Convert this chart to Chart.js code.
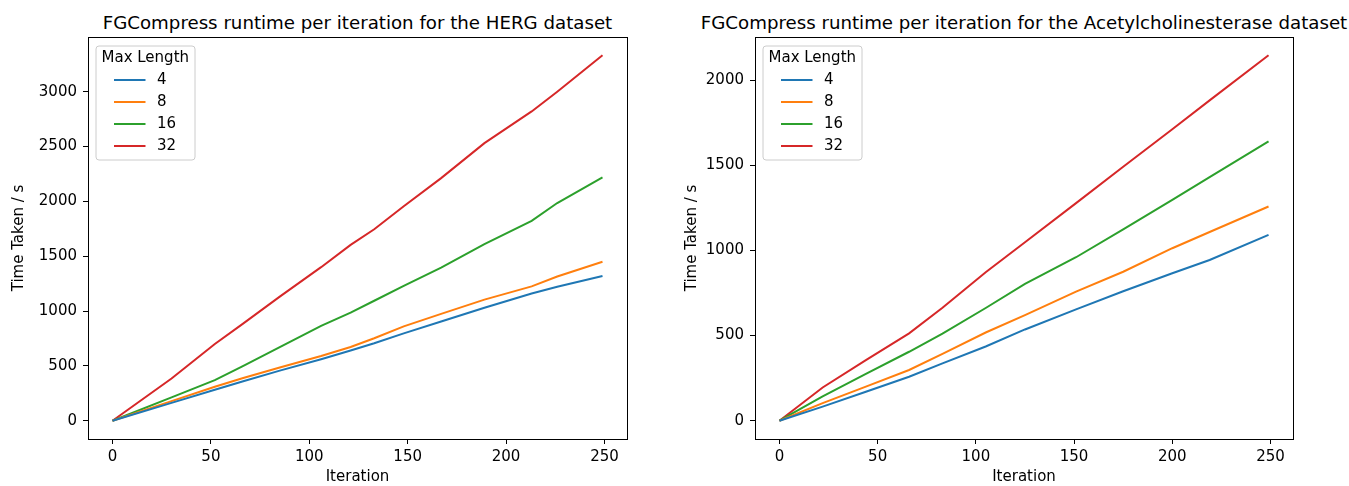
<!DOCTYPE html>
<html>
<head>
<meta charset="utf-8">
<script src="https://cdn.jsdelivr.net/npm/chart.js@4.4.0/dist/chart.umd.min.js"></script>
<style>
    body { margin: 0; background: #fff; width: 1349px; height: 486px; position: relative; overflow: hidden; font-family: "DejaVu Sans"; }
    canvas { position: absolute; top: 0; }
    .title { position: absolute; top: 12px; line-height: 22px; font-size: 18.2px; color: #000; white-space: nowrap; transform: translateX(-50%); }
</style>
</head>
<body>
<div class="title" id="hergTitle" style="left:357.5px">FGCompress runtime per iteration for the HERG dataset</div>
<div class="title" id="acheTitle" style="left:1024px">FGCompress runtime per iteration for the Acetylcholinesterase dataset</div>
<canvas id="hergChart" width="668" height="486" style="left:0px"></canvas>
<canvas id="acheChart" width="681" height="486" style="left:668px"></canvas>
<script>
const maxLengths = ["4", "8", "16", "32"];
const colors = ["#1f77b4", "#ff7f0e", "#2ca02c", "#d62728"];
const xTicks = [0, 50, 100, 150, 200, 250];

// HERG dataset, time taken (s) at each iteration
const hergIterations = [0, 30, 52, 66, 85, 106, 121, 133, 148, 167, 189, 213, 226, 249];
const hergLen4 = [0, 163, 282, 357, 457, 560, 640, 706, 796, 904, 1030, 1160, 1222, 1320];
const hergLen8 = [0, 179, 310, 388, 485, 590, 672, 752, 860, 974, 1104, 1225, 1315, 1450];
const hergLen16 = [0, 213, 370, 495, 672, 865, 985, 1094, 1229, 1396, 1610, 1822, 1985, 2218];
const hergLen32 = [0, 385, 699, 881, 1131, 1400, 1603, 1746, 1955, 2212, 2531, 2820, 3000, 3332];
const hergYTicks = [0, 500, 1000, 1500, 2000, 2500, 3000];

// Acetylcholinesterase dataset
const acheIterations = [0, 22, 44, 66, 83, 105, 125, 151, 175, 200, 219, 249];
const acheLen4 = [0, 83, 170, 258, 337, 436, 536, 654, 760, 866, 944, 1091];
const acheLen8 = [0, 103, 200, 298, 392, 518, 620, 758, 875, 1013, 1108, 1258];
const acheLen16 = [0, 143, 275, 405, 511, 662, 803, 960, 1124, 1297, 1430, 1640];
const acheLen32 = [0, 195, 356, 513, 663, 872, 1048, 1278, 1491, 1712, 1881, 2146];
const acheYTicks = [0, 500, 1000, 1500, 2000];

const tickFont = { family: "DejaVu Sans", size: 15 };

// box round the plot area, like the matplotlib frame
const framePlugin = {
    id: "frame",
    afterDraw(chart) {
        const a = chart.chartArea;
        const ctx = chart.ctx;
        ctx.save();
        ctx.strokeStyle = "#000";
        ctx.lineWidth = 1;
        ctx.strokeRect(Math.round(a.left) + 0.5, Math.round(a.top) + 0.5, Math.round(a.right - a.left), Math.round(a.bottom - a.top));
        ctx.restore();
    }
};

// legend inside the top left corner of the plot
const boxLegendPlugin = {
    id: "boxLegend",
    afterDraw(chart) {
        const a = chart.chartArea;
        const ctx = chart.ctx;
        const x = a.left + 7.5;
        const y = a.top + 8.5;
        ctx.save();
        ctx.fillStyle = "rgba(255,255,255,0.8)";
        ctx.strokeStyle = "#cccccc";
        ctx.lineWidth = 1;
        ctx.beginPath();
        ctx.roundRect(x + 0.5, y + 0.5, 99, 114, 3);
        ctx.fill();
        ctx.stroke();
        ctx.font = "15px 'DejaVu Sans'";
        ctx.fillStyle = "#000";
        ctx.textBaseline = "middle";
        ctx.fillText("Max Length", x + 6, y + 13);
        chart.data.datasets.forEach(function (ds, i) {
            const rowY = y + 34.5 + i * 22;
            ctx.strokeStyle = ds.borderColor;
            ctx.lineWidth = 2;
            ctx.beginPath();
            ctx.moveTo(x + 18.5, rowY);
            ctx.lineTo(x + 50, rowY);
            ctx.stroke();
            ctx.fillStyle = "#000";
            ctx.fillText(ds.label, x + 61.5, rowY);
        });
        ctx.restore();
    }
};

function makeChart(canvasId, iterations, seriesList, yTicks, axisWidth, yTitlePad, padRight) {
    const allValues = seriesList.flat();
    const yMaxData = Math.max(...allValues);
    const yMinData = Math.min(...allValues);
    const yMargin = (yMaxData - yMinData) * 0.05;
    const xMargin = (iterations[iterations.length - 1] - iterations[0]) * 0.05;

    const datasets = seriesList.map(function (values, i) {
        return {
            label: maxLengths[i],
            data: iterations.map((it, j) => ({ x: it, y: values[j] })),
            borderColor: colors[i],
            backgroundColor: colors[i],
            borderWidth: 2,
            pointRadius: 0,
            tension: 0,
            fill: false
        };
    });

    return new Chart(document.getElementById(canvasId), {
        type: "line",
        data: { datasets: datasets },
        options: {
            responsive: false,
            animation: false,
            layout: { padding: { top: 37, right: padRight, left: 0, bottom: 0 } },
            plugins: { legend: { display: false }, title: { display: false }, tooltip: { enabled: false } },
            scales: {
                x: {
                    type: "linear",
                    min: iterations[0] - xMargin,
                    max: iterations[iterations.length - 1] + xMargin,
                    afterBuildTicks: s => { s.ticks = xTicks.map(v => ({ value: v })); },
                    afterFit: s => { s.height = 47; },
                    grid: { drawOnChartArea: false, drawTicks: true, tickLength: 5, color: "#000" },
                    border: { display: true, color: "#000" },
                    ticks: { color: "#000", font: tickFont, padding: 4, maxRotation: 0, callback: v => String(v) },
                    title: { display: true, text: "Iteration", color: "#000", font: tickFont, padding: { top: 0, bottom: 0 } }
                },
                y: {
                    type: "linear",
                    min: yMinData - yMargin,
                    max: yMaxData + yMargin,
                    afterBuildTicks: s => { s.ticks = yTicks.map(v => ({ value: v })); },
                    afterFit: s => { s.width = axisWidth; },
                    grid: { drawOnChartArea: false, drawTicks: true, tickLength: 5, color: "#000" },
                    border: { display: true, color: "#000" },
                    ticks: { color: "#000", font: tickFont, padding: 6, callback: v => String(v) },
                    title: { display: true, text: "Time Taken / s", color: "#000", font: tickFont, padding: { top: yTitlePad, bottom: 0 } }
                }
            }
        },
        plugins: [framePlugin, boxLegendPlugin]
    });
}

makeChart("hergChart", hergIterations, [hergLen4, hergLen8, hergLen16, hergLen32], hergYTicks, 88, 10.5, 41);
makeChart("acheChart", acheIterations, [acheLen4, acheLen8, acheLen16, acheLen32], acheYTicks, 87, 15.5, 56);
</script>
</body>
</html>
